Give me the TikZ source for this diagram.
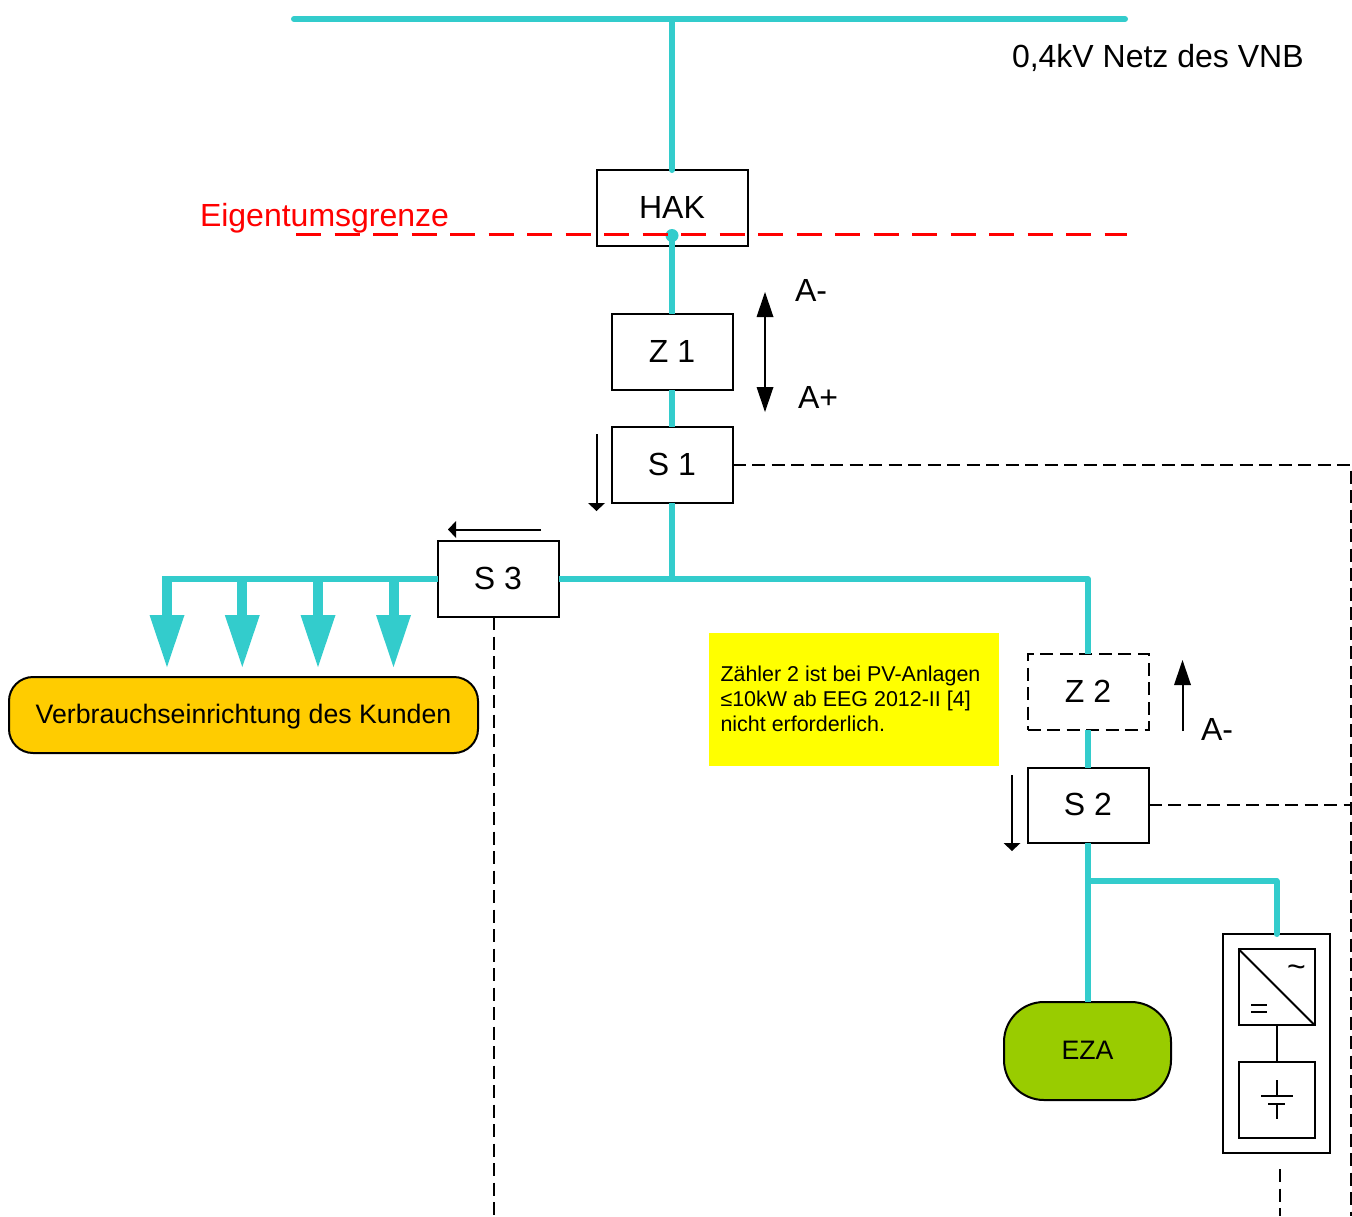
\documentclass[tikz,border=0pt]{standalone}
\usepackage{fontspec}
\setmainfont{Liberation Sans}
\usetikzlibrary{arrows.meta}
\definecolor{teal1}{HTML}{33CCCC}
\definecolor{orange1}{HTML}{FFCC00}
\definecolor{green1}{HTML}{99CC00}
\definecolor{yellow1}{HTML}{FFFF00}
\definecolor{red1}{HTML}{FF0000}
\tikzset{
  x=1pt,y=-1pt,
  every node/.style={inner sep=0pt,outer sep=0pt},
  box/.style={draw=black,line width=2pt,fill=white,minimum width=121pt,minimum height=76pt,font=\fontsize{32}{38}\selectfont,text height=23pt,text depth=2pt},
  lbl/.style={font=\fontsize{32}{38}\selectfont,anchor=base west},
  pill/.style={draw=black,line width=2pt,font=\fontsize{26.7}{32}\selectfont,text height=19pt,text depth=2pt},
  bus/.style={draw=teal1,line width=6pt,line cap=round,line join=round},
  feed/.style={draw=teal1,line width=10pt,-{Triangle[width=35pt,length=52pt,line width=0pt]}},
  ctrl/.style={draw=black,line width=2pt,dash pattern=on 13pt off 6.5pt},
  thin1/.style={draw=black,line width=2pt},
  bigarr/.style={thin1,{Triangle[width=17pt,length=25pt,line width=0pt]}-{Triangle[width=17pt,length=25pt,line width=0pt]}},
  onearr/.style={thin1,-{Triangle[width=17pt,length=25pt,line width=0pt]}},
  smallarr/.style={thin1,-{Triangle[width=17pt,length=8pt,line width=0pt]}},
}
\begin{document}
\begin{tikzpicture}
\fill[white] (0,0) rectangle (1352,1216);
\useasboundingbox (0,0) rectangle (1352,1216);
% boxes
\node[box,minimum width=151pt] (hak) at (672,208) {HAK};
\node[box] (z1) at (672,352) {Z 1};
\node[box] (s1) at (672,465) {S 1};
\node[box] (s3) at (498,579) {S 3};
\node[box,dash pattern=on 13pt off 6.5pt] (z2) at (1088,692) {Z 2};
\node[box,minimum height=75pt] (s2) at (1088,805) {S 2};
\node[pill,fill=orange1,rounded corners=24pt,minimum width=469pt,minimum height=76pt] (load) at (243.5,715) {Verbrauchseinrichtung des Kunden};
\node[pill,fill=green1,rounded corners=40pt,minimum width=167pt,minimum height=98pt] (eza) at (1087.5,1051) {EZA};
\node[fill=yellow1,minimum width=290pt,minimum height=133pt] (note) at (854,699.5) {};
\node[anchor=base west,font=\fontsize{21.45}{25}\selectfont,align=left] (notetext) at (720.5,731.5) {Zähler 2 ist bei PV-Anlagen\\[0pt]≤10kW ab EEG 2012-II [4]\\[0pt]nicht erforderlich.};
\node[draw=black,line width=2pt,minimum width=107pt,minimum height=219pt] (outer) at (1276.5,1043.5) {};
\node[draw=black,line width=2pt,minimum width=76pt,minimum height=76pt] (inv) at (1276.5,987) {};
\node[draw=black,line width=2pt,minimum width=76pt,minimum height=76pt] (bat) at (1276.5,1100) {};
% control lines
\coordinate (netz1) at (294,19);
\coordinate (netz2) at (1125,19);
\coordinate (netzt) at (672,19);
\coordinate (cr) at (1351,465);
\coordinate (crb) at (1351,1216);
\coordinate (cs2) at (1351,805);
\coordinate (cs3) at (494,1216);
\coordinate (cb1) at (1280,1169);
\coordinate (cb2) at (1280,1216);
\draw[ctrl] (s1.east) -- (cr) -- (crb);
\draw[ctrl] (s2.east) -- (cs2);
\draw[ctrl] (s3.south -| cs3) -- (cs3);
\draw[ctrl] (cb1) -- (cb2);
% teal network
\coordinate (hakdot) at (672,235.5);
\coordinate (j1) at (672,579);
\coordinate (j2) at (1088,579);
\coordinate (j3) at (1088,881);
\coordinate (j4) at (1276.5,881);
\coordinate (outertop) at (1276.5,934);
\coordinate (hakin) at (672,170);
\draw[bus] (netz1) -- (netz2);
\draw[bus] (netzt) -- (hakin);
\draw[bus,line cap=butt] (hakdot) -- (z1.north -| hakdot);
\draw[bus,line cap=butt] (z1.south -| hakdot) -- (s1.north -| hakdot);
\draw[bus,line cap=butt] (s1.south -| hakdot) -- (j1);
\draw[bus,line cap=butt] (s3.east) -- (j2) -- (z2.north -| j2);
\draw[bus,line cap=butt] (z2.south -| j2) -- (s2.north -| j2);
\draw[bus,line cap=butt] (s2.south -| j2) -- (eza.north -| j2);
\draw[bus] (j3) -- (j4) -- (outertop);
\fill[teal1] (hakdot) circle (6.5);
% Eigentumsgrenze
\coordinate (eg1) at (296,234.5);
\coordinate (eg2) at (1127,234.5);
\draw[red1,line width=3.6pt,dash pattern=on 25pt off 13.5pt] (eg1) -- (eg2);
% loads
\coordinate (l0) at (167,576);
\coordinate (l1) at (242.3,579);
\coordinate (l2) at (318,579);
\coordinate (l3) at (393.5,579);
\coordinate (t0) at (167,667);
\coordinate (t1) at (242.3,667);
\coordinate (t2) at (318,667);
\coordinate (t3) at (393.5,667);
\draw[bus,line cap=butt] (s3.west) -- (l0 |- s3.west);
\draw[feed] (l0) -- (t0);
\draw[feed] (l1) -- (t1);
\draw[feed] (l2) -- (t2);
\draw[feed] (l3) -- (t3);
% direction arrows
\coordinate (a1) at (765,292);
\coordinate (a2) at (765,412);
\draw[bigarr] (a1) -- (a2);
\coordinate (a3) at (1182.5,731);
\coordinate (a4) at (1182.5,660);
\draw[onearr] (a3) -- (a4);
\coordinate (a5) at (596.5,434);
\coordinate (a6) at (596.5,511);
\draw[smallarr] (a5) -- (a6);
\coordinate (a7) at (1012,775);
\coordinate (a8) at (1012,851);
\draw[smallarr] (a7) -- (a8);
\coordinate (a9) at (541,529.5);
\coordinate (a10) at (448,529.5);
\draw[smallarr] (a9) -- (a10);
% inverter
\draw[thin1] (inv.north west) -- (inv.south east);
\draw[thin1] (inv.south) -- (bat.north);
\coordinate (e1) at (1251,1005);
\coordinate (e2) at (1267,1005);
\coordinate (e3) at (1251,1012);
\coordinate (e4) at (1267,1012);
\draw[thin1] (e1) -- (e2) (e3) -- (e4);
\node[font=\fontsize{32}{36}\selectfont] (tilde) at (1296.5,971) {\char"007E};
% battery
\coordinate (b1) at (1276.7,1080);
\coordinate (b2) at (1276.7,1096);
\coordinate (b3) at (1261,1096);
\coordinate (b4) at (1293,1096);
\coordinate (b5) at (1268,1104);
\coordinate (b6) at (1285,1104);
\coordinate (b7) at (1276.7,1104);
\coordinate (b8) at (1276.7,1119);
\draw[thin1] (b1) -- (b2) (b3) -- (b4) (b5) -- (b6) (b7) -- (b8);
% labels
\node[lbl] (netzlabel) at (1012,67) {0,4kV Netz des VNB};
\node[lbl,text=red1] (eglabel) at (200,226) {Eigentumsgrenze};
\node[lbl] (am1) at (795,301) {A-};
\node[lbl] (ap1) at (798,408) {A+};
\node[lbl] (am2) at (1201,740) {A-};
\end{tikzpicture}
\end{document}
